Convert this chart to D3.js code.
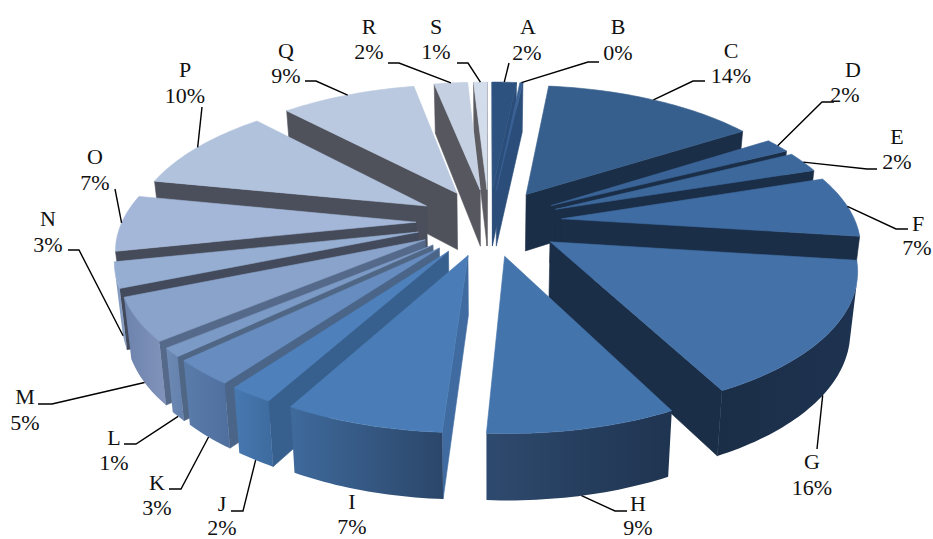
<!DOCTYPE html>
<html>
<head>
<meta charset="utf-8">
<script src="https://cdn.jsdelivr.net/npm/d3@7"></script>
<style>
  html, body { margin: 0; background: #fff; }
  text { font-family: "Liberation Serif", serif; font-size: 22px; fill: #111; }
</style>
</head>
<body>
<div id="chart"></div>
<script>
const categories = ['A','B','C','D','E','F','G','H','I','J','K','L','M','N','O','P','Q','R','S'];
const percentLabels = ['2%','0%','14%','2%','2%','7%','16%','9%','7%','2%','3%','1%','5%','3%','7%','10%','9%','2%','1%'];
// slice sizes, the printed labels are rounded
const values = [1.6,0.2,14.1,1.7,2.4,7.1,15.5,8.45,7.1,2.0,2.9,1.0,4.9,2.9,6.5,9.9,8.9,2.2,0.9];

// slice colours
const topColors = ['#2d5280','#3a6296','#375f8d','#3a6497','#3c689c','#3f6ca2','#4371a8','#4474ac','#4a7db7','#4e81bc','#678dc0','#7c9ac6','#89a3cb','#96aed1','#a4b7d8','#b1c2dd','#bac9df','#c5d0e2','#d3dcea'];
const wallColors = ['#2a4d79','#2a4d79','#1b2e47','#1b2e47','#1b2e47','#1b2e47','#1b2e47','#1d3350','#3f6ba0','#38608f','#4b6589','#506685','#55698a','#434a5c','#464b5a','#4a4f5b','#4f515b','#57585f','#5c5c62'];
const rimLeft = ['#2a4d79','#2a4d79','#1b2e47','#1b2e47','#1b2e47','#1b2e47','#1b2e47','#2e4a6e','#3f6a9c','#4778b0','#5a7cab','#6d8ab5','#6c83ad','#8098bf','#8ca2c6','#8a9cc0','#8a9cc0','#8a9cc0','#8a9cc0'];
const rimRight = ['#2a4d79','#2a4d79','#1b2e47','#1b2e47','#1b2e47','#1d3350','#1e3351','#1f3450','#2b4669','#3d6b9f','#4f6f9f','#6480ac','#8193ba','#8ca2c6','#8ca2c6','#8a9cc0','#8a9cc0','#8a9cc0','#8a9cc0'];

// label layout: name xy, percent xy, elbow points of the leader
const labelLayout = [
  { n:[528,34], p:[527,60], leader:[[509,63]] },
  { n:[618,34], p:[618,60], leader:[[588,62],[599,62]] },
  { n:[731,58], p:[731,83], leader:[[693,81],[705,81]] },
  { n:[853,77], p:[845,102], leader:[[822,102],[834,102]] },
  { n:[897,144], p:[897,169], leader:[[867,169],[877,169]] },
  { n:[918,231], p:[917,255], leader:[[896,229],[908,229]] },
  { n:[812,469], p:[812,495], leader:[[817,449]] },
  { n:[638,511], p:[638,535], leader:[[615,511],[627,511]] },
  { n:[352,509], p:[352,534], leader:null },
  { n:[222,511], p:[222,535], leader:[[243,511],[231,511]] },
  { n:[157,490], p:[157,515], leader:[[181,489],[169,489]] },
  { n:[114,445], p:[114,470], leader:[[136,444],[124,444]] },
  { n:[25,404], p:[25,430], leader:[[52,404],[38,404]] },
  { n:[48,226], p:[48,252], leader:[[79,250],[68,250]] },
  { n:[95,164], p:[95,190], leader:[[115,189]] },
  { n:[185,77], p:[185,103], leader:[[202,107]] },
  { n:[286,58], p:[286,83], leader:[[316,81],[305,81]] },
  { n:[369,34], p:[369,59], leader:[[399,63],[388,63]] },
  { n:[436,34], p:[436,59], leader:[[468,63],[457,63]] }
];

const width = 933, height = 539;
const cx = 489, cy = 222;
const radius = 294, explode = 73;
const focal = 1780, tilt = 0.46;
const depth = d3.scaleLinear().domain([-370, 370]).range([49, 67]);

const svg = d3.select('#chart').append('svg')
  .attr('width', width).attr('height', height).style('display', 'block');
const defs = svg.append('defs');

const project = (X, Y, bottom) => {
  const s = focal / (focal - Y);
  let x = X * s, y = tilt * Y * s;
  if (bottom) { x *= 0.98; y += depth(Y); }
  return [cx + x, cy + y];
};

const arcs = d3.pie().sort(null).value(d => d)(values);
arcs.forEach((d, i) => {
  d.i = i;
  d.mid = (d.startAngle + d.endAngle) / 2;
  d.ox = explode * Math.sin(d.mid);
  d.oy = -explode * Math.cos(d.mid);
  d.rim = (a, bottom) => project(d.ox + radius * Math.sin(a), d.oy - radius * Math.cos(a), bottom);
  d.tip = bottom => project(d.ox, d.oy, bottom);
});

const line = d3.line().curve(d3.curveLinearClosed);
const face = (g, pts, color) => g.append('path').attr('d', line(pts))
  .attr('fill', color).attr('stroke', color).attr('stroke-width', 0.6);

// back slices first
d3.sort(arcs, d => d.oy).forEach(d => {
  const g = svg.append('g');
  const i = d.i;
  const wall = a => [d.tip(false), d.rim(a, false), d.rim(a, true), d.tip(true)];

  const startWall = wall(d.startAngle), endWall = wall(d.endAngle);
  if (d3.polygonArea(startWall) > 0) face(g, startWall, wallColors[i]);
  if (d3.polygonArea(endWall) < 0) face(g, endWall, wallColors[i]);

  const steps = Math.max(2, Math.ceil((d.endAngle - d.startAngle) / 0.02));
  const angle = d3.scaleLinear().domain([0, steps]).range([d.startAngle, d.endAngle]);

  // the part of the outer wall that faces us, shaded left to right
  const shown = d3.range(steps).filter(t => d3.polygonArea([
    d.rim(angle(t), false), d.rim(angle(t + 1), false), d.rim(angle(t + 1), true), d.rim(angle(t), true)
  ]) > 0);
  if (shown.length) {
    const ts = d3.range(d3.min(shown), d3.max(shown) + 2);
    const rimPts = ts.map(t => d.rim(angle(t), false)).concat(ts.slice().reverse().map(t => d.rim(angle(t), true)));
    const xs = d3.extent(rimPts, p => p[0]);
    const grad = defs.append('linearGradient').attr('id', 'rim' + i)
      .attr('gradientUnits', 'userSpaceOnUse')
      .attr('x1', xs[0]).attr('x2', xs[1]).attr('y1', 0).attr('y2', 0);
    grad.append('stop').attr('offset', 0).attr('stop-color', rimLeft[i]);
    grad.append('stop').attr('offset', 1).attr('stop-color', rimRight[i]);
    g.append('path').attr('d', line(rimPts)).attr('fill', `url(#rim${i})`);
  }

  const top = [d.tip(false)].concat(d3.range(steps + 1).map(t => d.rim(angle(t), false)));
  face(g, top, topColors[i]);
});

// labels and leader lines
const leader = d3.line();
arcs.forEach((d, i) => {
  const l = labelLayout[i];
  const deg = d.mid * 180 / Math.PI;
  if (l.leader) {
    const start = d.rim(d.mid, deg > 90 && deg < 265);
    svg.append('path').attr('d', leader([start].concat(l.leader)))
      .attr('fill', 'none').attr('stroke', '#000').attr('stroke-width', 1.4);
  }
  svg.append('text').attr('x', l.n[0]).attr('y', l.n[1]).attr('text-anchor', 'middle').text(categories[i]);
  svg.append('text').attr('x', l.p[0]).attr('y', l.p[1]).attr('text-anchor', 'middle').text(percentLabels[i]);
});
</script>
</body>
</html>
